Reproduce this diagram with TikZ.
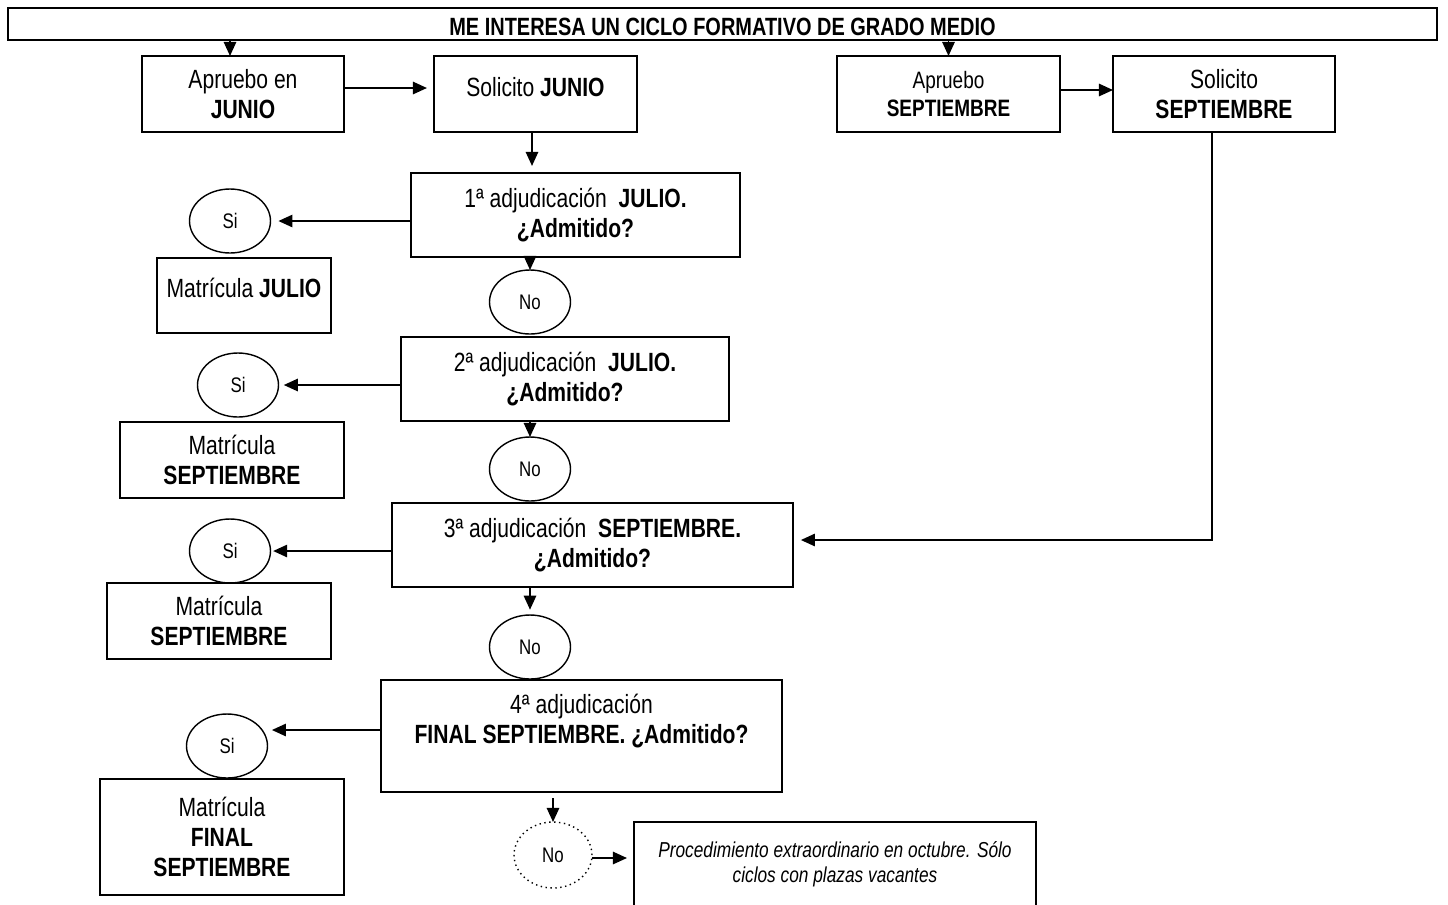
\documentclass[tikz,border=0pt]{standalone}
\usepackage{fontspec}
\setmainfont[FakeStretch=0.8]{Liberation Sans}
\usepackage{tikz}
\usetikzlibrary{arrows.meta,shapes.geometric}

\tikzset{
    caja/.style={draw, line width=0.8pt, align=center, inner sep=0pt, outer sep=0pt,
        font=\fontsize{15}{17}\selectfont},
    circulo/.style={draw, ellipse, line width=0.8pt, inner sep=0pt, outer sep=0pt,
        minimum width=1.62cm, minimum height=1.28cm, font=\fontsize{12}{14}\selectfont},
    flecha/.style={-{Triangle[length=8pt,width=7pt]}, line width=1.1pt},
}

\begin{document}
\begin{tikzpicture}[x=0.02cm, y=-0.02cm]
        \useasboundingbox (0,0) rectangle (1448,904);

        % Title
        \node[caja, line width=1.1pt, minimum width=28.58cm, minimum height=0.64cm,
            text height=13.5pt, text depth=0pt, font=\fontsize{14.2}{16}\selectfont\bfseries]
            (Titulo) at (722.5,24) {ME INTERESA UN CICLO FORMATIVO DE GRADO MEDIO};

        % June branch
        \node[caja, minimum width=4.04cm, minimum height=1.52cm] (AprJunio) at (243,94)
            {Apruebo en\\\textbf{JUNIO}};
        \node[caja, minimum width=4.06cm, minimum height=1.52cm, text depth=8pt] (SolJunio) at (535.5,94)
            {Solicito \textbf{JUNIO}};

        % September branch
        \node[caja, minimum width=4.46cm, minimum height=1.52cm, font=\fontsize{13.5}{16}\selectfont]
            (AprSept) at (948.5,94) {Apruebo\\\textbf{SEPTIEMBRE}};
        \node[caja, minimum width=4.44cm, minimum height=1.52cm] (SolSept) at (1224,94)
            {Solicito\\\textbf{SEPTIEMBRE}};

        % 1st adjudication
        \node[caja, minimum width=6.58cm, minimum height=1.68cm] (Adj1) at (575.5,215)
            {1ª adjudicación~~\textbf{JULIO.}\\\textbf{¿Admitido?}};
        \node[circulo] (Si1) at (230,221) {Si};
        \node[caja, minimum width=3.48cm, minimum height=1.5cm, text depth=8.5pt] (MatJulio) at (244,295.5)
            {Matrícula \textbf{JULIO}};
        \node[circulo] (No1) at (530,302) {No};

        % 2nd adjudication
        \node[caja, minimum width=6.56cm, minimum height=1.68cm] (Adj2) at (565,379)
            {2ª adjudicación~~\textbf{JULIO.}\\\textbf{¿Admitido?}};
        \node[circulo] (Si2) at (238,385) {Si};
        \node[caja, minimum width=4.48cm, minimum height=1.52cm] (MatSept1) at (232,460)
            {Matrícula\\\textbf{SEPTIEMBRE}};
        \node[circulo] (No2) at (530,469) {No};

        % 3rd adjudication
        \node[caja, minimum width=8.02cm, minimum height=1.68cm] (Adj3) at (592.5,545)
            {3ª adjudicación~~\textbf{SEPTIEMBRE.}\\\textbf{¿Admitido?}};
        \node[circulo] (Si3) at (230,551) {Si};
        \node[caja, minimum width=4.48cm, minimum height=1.52cm] (MatSept2) at (219,621)
            {Matrícula\\\textbf{SEPTIEMBRE}};
        \node[circulo] (No3) at (530,647) {No};

        % 4th adjudication
        \node[caja, minimum width=8.02cm, minimum height=2.24cm, text depth=20pt] (Adj4) at (581.5,736)
            {4ª adjudicación\\\textbf{FINAL SEPTIEMBRE. ¿Admitido?}};
        \node[circulo] (Si4) at (227,746) {Si};
        \node[caja, minimum width=4.88cm, minimum height=2.32cm] (MatFinal) at (222,837)
            {Matrícula\\\textbf{FINAL}\\\textbf{SEPTIEMBRE}};
        \node[circulo, dotted, minimum width=1.56cm, minimum height=1.32cm] (NoFinal) at (553,855) {No};
        \node[caja, minimum width=8.04cm, minimum height=1.68cm, font=\fontsize{12.3}{14}\selectfont\itshape]
            (Extra) at (835,864)
            {Procedimiento extraordinario en octubre. Sólo\\ciclos con plazas vacantes};

        % Connectors
        \draw[flecha] ([xshift=-0.26cm]AprJunio.north |- Titulo.south) -- ([xshift=-0.26cm]AprJunio.north);
        \draw[flecha] (AprSept.north |- Titulo.south) -- (AprSept.north);
        \draw[flecha, shorten >=4pt] ([yshift=0.12cm]AprJunio.east) -- ([yshift=0.12cm]AprJunio.east -| SolJunio.west);
        \draw[flecha] ([yshift=0.08cm]AprSept.east) -- ([yshift=0.08cm]AprSept.east -| SolSept.west);
        \draw[flecha, shorten >=4pt] ([xshift=-0.07cm]SolJunio.south) -- ([xshift=-0.07cm]SolJunio.south |- Adj1.north);
        \draw[flecha, shorten >=4.5pt] (Adj1.west |- Si1) -- (Si1.east);
        \draw[flecha] (No1.north |- Adj1.south) -- (No1.north);
        \draw[flecha, shorten >=3pt] (Adj2.west |- Si2) -- (Si2.east);
        \draw[flecha] (No2.north |- Adj2.south) -- (No2.north);
        \draw[flecha, shorten >=4.5pt] ([xshift=-0.24cm]SolSept.south) |- ([yshift=0.1cm]Adj3.east);
        \draw[flecha, shorten >=1.5pt] (Adj3.west |- Si3) -- (Si3.east);
        \draw[flecha, shorten >=3pt] (No3.north |- Adj3.south) -- (No3.north);
        \draw[flecha, shorten >=2.5pt] ([yshift=0.32cm]Adj4.west |- Si4) -- ([yshift=0.32cm]Si4.east);
        \draw[flecha] ([yshift=-0.12cm]Adj4.south -| NoFinal) -- (NoFinal.north);
        \draw[flecha, shorten >=4pt] ([yshift=-0.06cm]NoFinal.east) -- ([yshift=-0.06cm]NoFinal.east -| Extra.west);
\end{tikzpicture}
\end{document}
